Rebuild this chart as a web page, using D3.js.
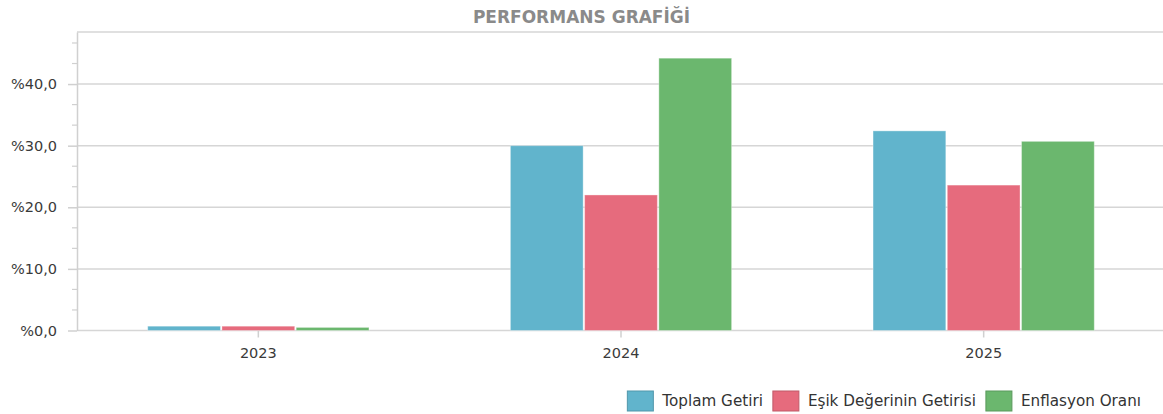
<!DOCTYPE html>
<html lang="tr">
<head>
<meta charset="utf-8">
<title>performans grafigi</title>
<script src="https://cdn.jsdelivr.net/npm/d3@7"></script>
<style>
  body { margin: 0; background: #fff; }
  text { font-family: "DejaVu Sans", Verdana, sans-serif; }
</style>
</head>
<body>
<div id="chart"></div>
<script>
// values (percent)
var years = ["2023", "2024", "2025"]
var seriesNames = ["Toplam Getiri", "Eşik Değerinin Getirisi", "Enflasyon Oranı"]
var seriesColors = ["#61b4cc", "#e66b7d", "#6bb76e"]
var toplamGetiri = [0.7, 30.0, 32.4]
var esikGetiri = [0.7, 22.0, 23.6]
var enflasyon = [0.5, 44.2, 30.7]
var yTicks = [0, 10, 20, 30, 40]

var W = 1163, H = 414
var plotLeft = 77, plotRight = 1165, plotTop = 32, plotBottom = 330.5
var yMax = 48.45

var svg = d3.select("#chart").append("svg")
  .attr("width", W).attr("height", H)

var allSeries = [toplamGetiri, esikGetiri, enflasyon]

var x = d3.scaleBand().domain(years).range([plotLeft, plotRight]).padding(0)
var step = x.bandwidth()
var xInner = d3.scaleBand().domain(seriesNames)
  .range([step * 0.195, step * 0.805]).paddingInner(0.02)
var y = d3.scaleLinear().domain([0, yMax]).range([plotBottom, plotTop])

function fmt(d) { return "%" + d.toFixed(1).replace(".", ",") }

// title
svg.append("text")
  .attr("x", W / 2).attr("y", 23)
  .attr("text-anchor", "middle")
  .attr("font-size", 17).attr("font-weight", "bold")
  .attr("fill", "#8a8a8a")
  .text("PERFORMANS GRAFİĞİ")

// gridlines
svg.append("g").selectAll("line")
  .data(yTicks.concat([yMax]))
  .enter().append("line")
  .attr("x1", plotLeft).attr("x2", plotRight)
  .attr("y1", function(d){ return y(d) }).attr("y2", function(d){ return y(d) })
  .attr("stroke", "#d6d6d6").attr("stroke-width", 1.5)

// minor ticks on y (three per major step)
var minor = d3.range(1, 15).map(function(k){ return k * 10 / 3 })
  .filter(function(d){ return k3(d) && d < yMax })
function k3(d) { return Math.abs(Math.round(d / 10) * 10 - d) > 0.01 }
svg.append("g").selectAll("line")
  .data(minor).enter().append("line")
  .attr("x1", plotLeft - 5).attr("x2", plotLeft)
  .attr("y1", function(d){ return y(d) }).attr("y2", function(d){ return y(d) })
  .attr("stroke", "#d0d0d0").attr("stroke-width", 1.2)

// y axis
var yAxis = d3.axisLeft(y).tickValues(yTicks).tickFormat(fmt).tickSize(9).tickPadding(11).tickSizeOuter(0)
var gy = svg.append("g").attr("transform", "translate(" + plotLeft + ",0)").call(yAxis)
gy.select(".domain").attr("stroke", "#d0d0d0").attr("stroke-width", 1.5)
gy.selectAll(".tick line").attr("stroke", "#d0d0d0").attr("stroke-width", 1.5)
gy.selectAll(".tick text").attr("font-size", 14.5).attr("fill", "#3a3a3a")
  .attr("font-family", "DejaVu Sans, sans-serif")

// x axis
var xAxis = d3.axisBottom(x).tickSize(7).tickPadding(10).tickSizeOuter(0)
var gx = svg.append("g").attr("transform", "translate(0," + plotBottom + ")").call(xAxis)
gx.select(".domain").remove()
gx.selectAll(".tick line").attr("stroke", "#d0d0d0").attr("stroke-width", 1.5)
gx.selectAll(".tick text").attr("font-size", 14.5).attr("fill", "#3a3a3a")
  .attr("font-family", "DejaVu Sans, sans-serif")

// bars
var groups = svg.append("g").selectAll("g")
  .data(years).enter().append("g")
  .attr("transform", function(d){ return "translate(" + x(d) + ",0)" })

groups.selectAll("rect")
  .data(function(d, i){
    return seriesNames.map(function(s, j){ return { s: s, v: allSeries[j][i], c: seriesColors[j] } })
  })
  .enter().append("rect")
  .attr("x", function(d){ return xInner(d.s) })
  .attr("width", xInner.bandwidth())
  .attr("y", function(d){ return y(d.v) })
  .attr("height", function(d){ return plotBottom - y(d.v) })
  .attr("fill", function(d){ return d.c })
  .attr("stroke", "rgba(255,255,255,0.35)")
  .attr("stroke-width", 1)

// legend, right aligned
var legend = svg.append("g")
var items = legend.selectAll("g").data(seriesNames).enter().append("g")
items.append("rect")
  .attr("width", 26).attr("height", 20).attr("y", 391)
  .attr("fill", function(d, i){ return seriesColors[i] })
  .attr("stroke", function(d, i){ return d3.color(seriesColors[i]).darker(0.5) })
  .attr("stroke-width", 1)
items.append("text")
  .attr("x", 35).attr("y", 406)
  .attr("font-size", 15.2).attr("fill", "#333")
  .text(function(d){ return d })

var widths = []
items.each(function(){ widths.push(this.getBBox().width) })
var total = d3.sum(widths) + 10 * (widths.length - 1)
var xpos = 1141 - total
items.attr("transform", function(d, i){
  var t = "translate(" + xpos + ",0)"
  xpos += widths[i] + 10
  return t
})
</script>
</body>
</html>
